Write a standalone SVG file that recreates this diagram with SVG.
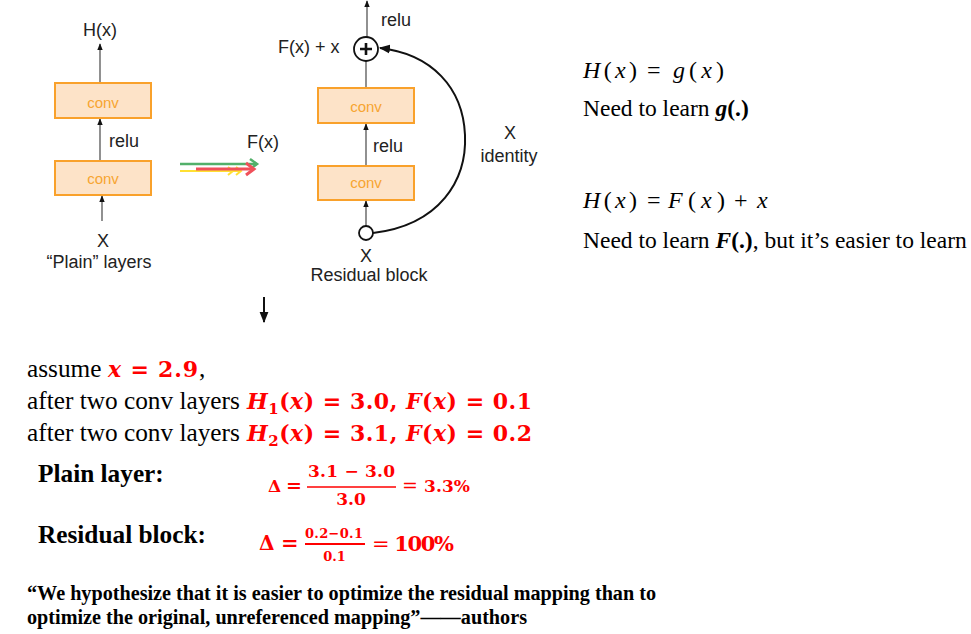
<svg xmlns="http://www.w3.org/2000/svg" width="971" height="634" viewBox="0 0 971 634">
<defs>
<style>
.lbl{font-family:"Liberation Sans",Arial,sans-serif;font-size:18px;fill:#222}
.mid{text-anchor:middle}
.conv{font-family:"Liberation Sans",Arial,sans-serif;font-size:15px;fill:#f7a531;text-anchor:middle}
.box{fill:#fde3c8;stroke:#f9a12b;stroke-width:2}
.ln{stroke:#555;stroke-width:1.3;fill:none;marker-end:url(#ah)}
.body{font-family:"Liberation Serif","Times New Roman",serif;font-size:25.3px;fill:#000}
.rt{font-family:"Liberation Serif","Times New Roman",serif;font-size:23.5px;fill:#000}
.mt{font-family:"Liberation Serif","Times New Roman",serif;font-size:24px;fill:#000}
.red{font-family:"DejaVu Serif",serif;font-weight:bold;fill:#ff0000}
.it{font-style:italic}
.q{font-family:"Liberation Serif","Times New Roman",serif;font-size:20px;font-weight:bold;fill:#000}
</style>
<marker id="ah" viewBox="0 0 10 10" refX="9" refY="5" markerUnits="userSpaceOnUse" markerWidth="7" markerHeight="7" orient="auto"><path d="M0,1 L10,5 L0,9 z" fill="#111"/></marker>
<marker id="ahb" viewBox="0 0 10 10" refX="9" refY="5" markerUnits="userSpaceOnUse" markerWidth="11" markerHeight="11" orient="auto"><path d="M0,1 L10,5 L0,9 z" fill="#111"/></marker>
</defs>
<rect width="971" height="634" fill="#fff"/>

<g id="connectors">
<line class="ln" x1="100" y1="83" x2="100" y2="44"/>
<line class="ln" x1="100" y1="161" x2="100" y2="119"/>
<line class="ln" x1="102" y1="221" x2="102" y2="196"/>
<line class="ln" x1="367" y1="37" x2="367" y2="1"/>
<line x1="366" y1="61" x2="366" y2="88" stroke="#555" stroke-width="1.3"/>
<line class="ln" x1="366" y1="166" x2="366" y2="124"/>
<line class="ln" x1="366" y1="226" x2="366" y2="201"/>
<path d="M373 233 C440 225 467 180 465 135 C463 88 432 54 380 48" fill="none" stroke="#111" stroke-width="2" marker-end="url(#ahb)"/>
<line x1="264" y1="297" x2="264" y2="322" stroke="#111" stroke-width="2" marker-end="url(#ahb)"/>
</g>

<g id="transition-arrows">
<line x1="180" y1="164" x2="257" y2="164" stroke="#52b06a" stroke-width="2.5"/>
<polyline points="250,159 257,164 250,169" fill="none" stroke="#52b06a" stroke-width="2.5"/>
<line x1="180" y1="171" x2="241" y2="171" stroke="#ffe033" stroke-width="2"/>
<polyline points="228,167 233,171 228,175" fill="none" stroke="#ffe033" stroke-width="2"/>
<polyline points="236,167 241,171 236,175" fill="none" stroke="#ffe033" stroke-width="2"/>
<line x1="196" y1="169" x2="254" y2="169" stroke="#f0505a" stroke-width="3"/>
<polyline points="246,163 254,169 246,175" fill="none" stroke="#f0505a" stroke-width="3"/>
<text class="lbl" x="247" y="148" font-size="19">F(x)</text>
</g>

<g id="plain">
<text class="lbl mid" x="100" y="36">H(x)</text>
<g id="plain-conv1"><rect class="box" x="55" y="83" width="96" height="35"/><text class="conv" x="103" y="108">conv</text></g>
<text class="lbl" x="109" y="147">relu</text>
<g id="plain-conv2"><rect class="box" x="55" y="161" width="96" height="34"/><text class="conv" x="103" y="184">conv</text></g>
<text class="lbl mid" x="103" y="247">X</text>
<text class="lbl mid" x="99" y="268">“Plain” layers</text>
</g>

<g id="residual">
<text class="lbl" x="381" y="26">relu</text>
<text class="lbl" x="278" y="53">F(x) + x</text>
<g id="sum"><circle cx="366" cy="49" r="12" fill="#fff" stroke="#111" stroke-width="1.8"/>
<path d="M360 49 H372 M366 43 V55" stroke="#111" stroke-width="2.6"/></g>
<g id="res-conv1"><rect class="box" x="318" y="88" width="96" height="35"/><text class="conv" x="366" y="112">conv</text></g>
<text class="lbl" x="373" y="152">relu</text>
<g id="res-conv2"><rect class="box" x="318" y="166" width="96" height="34"/><text class="conv" x="366" y="188">conv</text></g>
<g id="input"><circle cx="366" cy="233" r="7" fill="#fff" stroke="#111" stroke-width="1.8"/></g>
<text class="lbl mid" x="366" y="262">X</text>
<text class="lbl mid" x="369" y="281">Residual block</text>
<text class="lbl mid" x="510" y="139">X</text>
<text class="lbl mid" x="509" y="162">identity</text>
</g>

<g id="right-text">
<text class="mt" x="583" y="78" textLength="54" lengthAdjust="spacing"><tspan class="it">H</tspan>(<tspan class="it">x</tspan>)</text>
<text class="mt" x="647" y="78">=</text>
<text class="mt" x="673" y="78" textLength="51" lengthAdjust="spacing"><tspan class="it">g</tspan>(<tspan class="it">x</tspan>)</text>
<text class="rt" x="583" y="116">Need to learn <tspan font-weight="bold" font-style="italic">g</tspan><tspan font-weight="bold">(.)</tspan></text>
<text class="mt" x="583" y="208" textLength="54" lengthAdjust="spacing"><tspan class="it">H</tspan>(<tspan class="it">x</tspan>)</text>
<text class="mt" x="647" y="208">=</text>
<text class="mt" x="668" y="208" textLength="57" lengthAdjust="spacing"><tspan class="it">F</tspan>(<tspan class="it">x</tspan>)</text>
<text class="mt" x="734" y="208">+</text>
<text class="mt it" x="757" y="208">x</text>
<text class="rt" x="583" y="248">Need to learn <tspan font-weight="bold" font-style="italic">F</tspan><tspan font-weight="bold">(.)</tspan>, but it’s easier to learn</text>
</g>

<g id="example">
<text class="body" x="27" y="377">assume</text>
<text class="red" x="108" y="377" font-size="22" textLength="90" lengthAdjust="spacing"><tspan class="it">x</tspan> = 2.9</text>
<text class="body" x="199" y="377">,</text>
<text class="body" x="27" y="409">after two conv layers</text>
<text class="red" x="247" y="409" font-size="22" textLength="285" lengthAdjust="spacing"><tspan class="it">H</tspan><tspan font-size="15" dy="5">1</tspan><tspan dy="-5">(</tspan><tspan class="it">x</tspan>) = 3.0, <tspan class="it">F</tspan>(<tspan class="it">x</tspan>) = 0.1</text>
<text class="body" x="27" y="441">after two conv layers</text>
<text class="red" x="247" y="441" font-size="22" textLength="285" lengthAdjust="spacing"><tspan class="it">H</tspan><tspan font-size="15" dy="5">2</tspan><tspan dy="-5">(</tspan><tspan class="it">x</tspan>) = 3.1, <tspan class="it">F</tspan>(<tspan class="it">x</tspan>) = 0.2</text>
</g>

<g id="deltas">
<text class="body" x="38" y="482" font-size="26" font-weight="bold">Plain layer:</text>
<text class="red" x="268" y="492" font-size="17">Δ</text>
<text class="red" x="286" y="492" font-size="19" font-weight="normal">=</text>
<text class="red mid" x="351.5" y="477" font-size="17" textLength="87" lengthAdjust="spacing">3.1 − 3.0</text>
<line x1="307" y1="487" x2="396" y2="487" stroke="#ff0000" stroke-width="1.4"/>
<text class="red mid" x="351" y="505" font-size="17">3.0</text>
<text class="red" x="402" y="492" font-size="17" textLength="68" lengthAdjust="spacing"><tspan font-weight="normal" font-size="19">=</tspan> 3.3%</text>

<text class="body" x="38" y="543" font-size="26" font-weight="bold">Residual block:</text>
<text class="red" x="259" y="550" font-size="20">Δ</text>
<text class="red" x="281" y="550" font-size="21" font-weight="normal">=</text>
<text class="red mid" x="334" y="538" font-size="13" textLength="58" lengthAdjust="spacing">0.2−0.1</text>
<line x1="305" y1="544" x2="365" y2="544" stroke="#ff0000" stroke-width="2"/>
<text class="red mid" x="334.5" y="561" font-size="13">0.1</text>
<text class="red" x="372" y="551" font-size="21" textLength="82" lengthAdjust="spacing"><tspan font-weight="normal">=</tspan> 100%</text>
</g>

<g id="quote">
<text class="q" x="27" y="600" textLength="629" lengthAdjust="spacingAndGlyphs">“We hypothesize that it is easier to optimize the residual mapping than to</text>
<text class="q" x="27" y="624" textLength="500" lengthAdjust="spacingAndGlyphs">optimize the original, unreferenced mapping”——authors</text>
</g>
</svg>
